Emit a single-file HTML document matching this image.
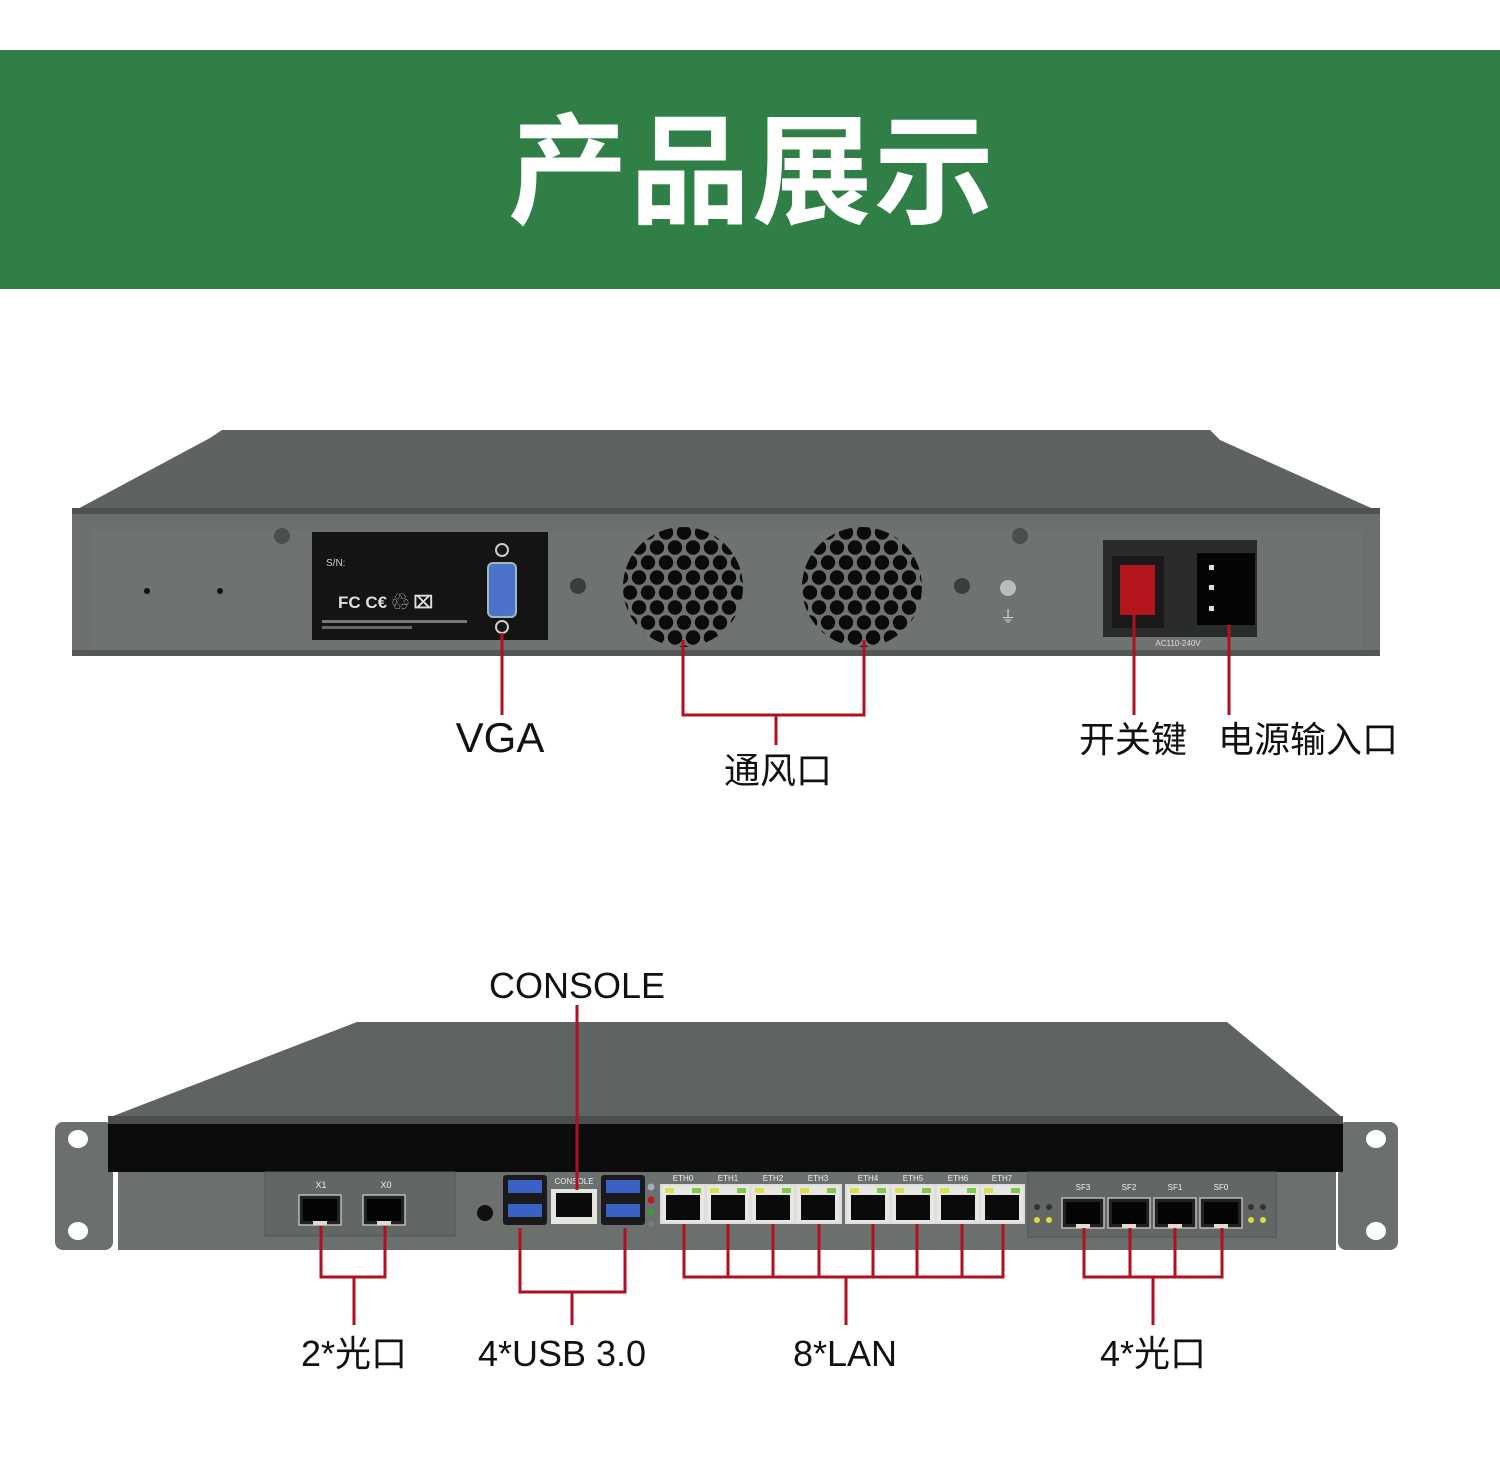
<!DOCTYPE html>
<html><head><meta charset="utf-8"><style>
html,body{margin:0;padding:0;background:#fff;}
svg{display:block;}
text{font-family:"Liberation Sans","Noto Sans CJK SC",sans-serif;}
</style></head><body>
<svg width="1500" height="1465" viewBox="0 0 1500 1465" xmlns="http://www.w3.org/2000/svg">
<defs>
<pattern id="hex" x="0" y="0" width="18" height="30" patternUnits="userSpaceOnUse">
<circle cx="9" cy="7.5" r="7.2" fill="#0b0b0b"/>
<circle cx="0" cy="22.5" r="7.2" fill="#0b0b0b"/>
<circle cx="18" cy="22.5" r="7.2" fill="#0b0b0b"/>
</pattern>
<clipPath id="fan1"><circle cx="683" cy="587" r="60"/></clipPath>
<clipPath id="fan2"><circle cx="862" cy="587" r="60"/></clipPath>
<g id="lan">
<rect x="0" y="0" width="42" height="36" fill="#e8e8e2"/>
<rect x="4" y="9" width="34" height="25" fill="#0a0a0a"/>
<rect x="3" y="2" width="9" height="5" fill="#d9e04a"/>
<rect x="30" y="2" width="9" height="5" fill="#7fc84a"/>
</g>
<g id="sfp">
<rect x="0" y="0" width="42" height="30" fill="#222" stroke="#bbb" stroke-width="1.5"/>
<rect x="4" y="4" width="34" height="22" fill="#050505"/>
<rect x="14" y="26" width="14" height="4" fill="#e6d6d6"/>
</g>
</defs>

<rect x="0" y="50" width="1500" height="239" fill="#2f7f46"/>
<text x="752" y="214" font-size="120" font-weight="bold" fill="#fff" text-anchor="middle" letter-spacing="2">产品展示</text>

<path d="M210 438 L222 430 L1210 430 L1220 440 L1380 512 L72 512 Z" fill="#5e6361"/>
<rect x="72" y="508" width="1308" height="6" fill="#4d5250"/>
<rect x="72" y="514" width="1308" height="142" fill="#6b6f6d"/>
<rect x="92" y="530" width="1270" height="120" fill="#6e7270"/>
<rect x="72" y="650" width="1308" height="6" fill="#555"/>
<circle cx="282" cy="536" r="8" fill="#4a4e4c"/>
<circle cx="1020" cy="536" r="8" fill="#4a4e4c"/>
<circle cx="147" cy="591" r="3" fill="#111"/>
<circle cx="220" cy="591" r="3" fill="#111"/>
<rect x="312" y="532" width="236" height="108" fill="#141414"/>
<text x="326" y="566" font-size="10" fill="#ccc">S/N:</text>
<text x="338" y="608" font-size="17" font-weight="bold" fill="#ddd">FC C€ ♲ ⌧</text>
<rect x="322" y="620" width="145" height="3" fill="#777"/>
<rect x="322" y="626" width="90" height="3" fill="#666"/>
<rect x="488" y="563" width="28" height="54" rx="5" fill="#4c73c9" stroke="#9bb" stroke-width="2"/>
<circle cx="502" cy="550" r="6" fill="none" stroke="#ccc" stroke-width="2"/>
<circle cx="502" cy="627" r="6" fill="none" stroke="#ccc" stroke-width="2"/>
<circle cx="578" cy="586" r="8" fill="#3a3d3c"/>
<circle cx="962" cy="586" r="8" fill="#3a3d3c"/>
<rect x="620" y="524" width="130" height="130" fill="url(#hex)" clip-path="url(#fan1)"/>
<rect x="798" y="524" width="130" height="130" fill="url(#hex)" clip-path="url(#fan2)"/>
<circle cx="1008" cy="588" r="8" fill="#bbb"/>
<text x="1008" y="622" font-size="16" fill="#ddd" text-anchor="middle">⏚</text>
<rect x="1103" y="540" width="154" height="97" fill="#2a2c2b"/>
<rect x="1112" y="556" width="52" height="72" fill="#1a1a1a"/>
<rect x="1120" y="565" width="35" height="50" fill="#b3161c"/>
<rect x="1197" y="553" width="58" height="72" fill="#050505"/>
<rect x="1209" y="565" width="5" height="5" fill="#ddd"/><rect x="1209" y="585" width="5" height="5" fill="#ddd"/><rect x="1209" y="606" width="5" height="5" fill="#ddd"/>
<text x="1178" y="646" font-size="8" fill="#ddd" text-anchor="middle">AC110-240V</text>

<g stroke="#b01020" stroke-width="3" fill="none">
<path d="M502 633 V715"/>
<path d="M683 640 V715 H864 V640"/>
<path d="M776 715 V745"/>
<path d="M1134 615 V715"/>
<path d="M1229 625 V715"/>
</g>
<g fill="#111">
<text x="500" y="752" font-size="42" text-anchor="middle">VGA</text>
<text x="778" y="783" font-size="36" text-anchor="middle">通风口</text>
<text x="1133" y="752" font-size="36" text-anchor="middle">开关键</text>
<text x="1308" y="752" font-size="36" text-anchor="middle">电源输入口</text>
</g>

<path d="M357 1022 L1227 1022 L1343 1118 L108 1118 Z" fill="#5f6462"/>
<rect x="55" y="1122" width="58" height="128" rx="8" fill="#6b6f6d"/>
<rect x="1338" y="1122" width="60" height="128" rx="8" fill="#6b6f6d"/>
<ellipse cx="78" cy="1139" rx="10" ry="9" fill="#fff"/>
<ellipse cx="78" cy="1231" rx="10" ry="9" fill="#fff"/>
<ellipse cx="1376" cy="1139" rx="10" ry="9" fill="#fff"/>
<ellipse cx="1376" cy="1231" rx="10" ry="9" fill="#fff"/>
<rect x="108" y="1116" width="1235" height="8" fill="#4a4e4c"/>
<rect x="108" y="1124" width="1235" height="48" fill="#0c0c0c"/>
<rect x="118" y="1172" width="1218" height="78" fill="#6b6f6d"/>
<rect x="265" y="1172" width="190" height="64" fill="#626664" stroke="#555" stroke-width="1"/>
<rect x="1028" y="1172" width="248" height="65" fill="#626664" stroke="#555" stroke-width="1"/>
<text x="321" y="1188" font-size="9" fill="#eee" text-anchor="middle">X1</text>
<text x="386" y="1188" font-size="9" fill="#eee" text-anchor="middle">X0</text>
<use href="#sfp" x="299" y="1195"/>
<use href="#sfp" x="363" y="1195"/>
<circle cx="485" cy="1213" r="8" fill="#111"/>
<rect x="503" y="1175" width="44" height="50" rx="3" fill="#1a1a1a"/>
<rect x="508" y="1180" width="34" height="13" fill="#3a62c4"/>
<rect x="508" y="1204" width="34" height="13" fill="#3a62c4"/>
<rect x="601" y="1175" width="44" height="50" rx="3" fill="#1a1a1a"/>
<rect x="606" y="1180" width="34" height="13" fill="#3a62c4"/>
<rect x="606" y="1204" width="34" height="13" fill="#3a62c4"/>
<rect x="551" y="1189" width="46" height="35" fill="#e6e6e0"/>
<rect x="556" y="1193" width="36" height="24" fill="#0a0a0a"/>
<text x="574" y="1184" font-size="8" fill="#eee" text-anchor="middle">CONSOLE</text>
<circle cx="651" cy="1187" r="3.5" fill="#aab"/>
<circle cx="651" cy="1200" r="3.5" fill="#c2151b"/>
<circle cx="651" cy="1212" r="3.5" fill="#3a9a3a"/>
<circle cx="651" cy="1224" r="3.5" fill="#777"/>
<rect x="660" y="1184" width="182" height="40" fill="#ddd"/>
<rect x="845" y="1184" width="180" height="40" fill="#ddd"/>
<use href="#lan" x="662" y="1186"/><use href="#lan" x="707" y="1186"/><use href="#lan" x="752" y="1186"/><use href="#lan" x="797" y="1186"/>
<use href="#lan" x="847" y="1186"/><use href="#lan" x="892" y="1186"/><use href="#lan" x="937" y="1186"/><use href="#lan" x="981" y="1186"/>
<g font-size="8" fill="#eee" text-anchor="middle">
<text x="683" y="1181">ETH0</text><text x="728" y="1181">ETH1</text><text x="773" y="1181">ETH2</text><text x="818" y="1181">ETH3</text>
<text x="868" y="1181">ETH4</text><text x="913" y="1181">ETH5</text><text x="958" y="1181">ETH6</text><text x="1002" y="1181">ETH7</text>
<text x="1083" y="1190">SF3</text><text x="1129" y="1190">SF2</text><text x="1175" y="1190">SF1</text><text x="1221" y="1190">SF0</text>
</g>
<use href="#sfp" x="1062" y="1198"/><use href="#sfp" x="1108" y="1198"/><use href="#sfp" x="1154" y="1198"/><use href="#sfp" x="1200" y="1198"/>
<circle cx="1037" cy="1207" r="3" fill="#333"/><circle cx="1049" cy="1207" r="3" fill="#333"/>
<circle cx="1037" cy="1220" r="3" fill="#d8e040"/><circle cx="1049" cy="1220" r="3" fill="#d8e040"/>
<circle cx="1251" cy="1207" r="3" fill="#333"/><circle cx="1263" cy="1207" r="3" fill="#333"/>
<circle cx="1251" cy="1220" r="3" fill="#d8e040"/><circle cx="1263" cy="1220" r="3" fill="#d8e040"/>

<g stroke="#b01020" stroke-width="3" fill="none">
<path d="M577 1005 V1190"/>
<path d="M321 1226 V1277 H385 V1226"/><path d="M354 1277 V1325"/>
<path d="M520 1228 V1292 H625 V1228"/><path d="M572 1292 V1325"/>
<path d="M684 1224 V1277 H1003 V1224"/>
<path d="M728 1224 V1277 M773 1224 V1277 M819 1224 V1277 M873 1224 V1277 M917 1224 V1277 M962 1224 V1277"/>
<path d="M846 1277 V1325"/>
<path d="M1084 1228 V1277 H1222 V1228"/><path d="M1130 1228 V1277 M1175 1228 V1277"/>
<path d="M1153 1277 V1325"/>
</g>
<g fill="#111" font-size="36" text-anchor="middle">
<text x="577" y="998">CONSOLE</text>
<text x="354" y="1366">2*光口</text>
<text x="562" y="1366">4*USB 3.0</text>
<text x="845" y="1366">8*LAN</text>
<text x="1153" y="1366">4*光口</text>
</g>
</svg>
</body></html>
